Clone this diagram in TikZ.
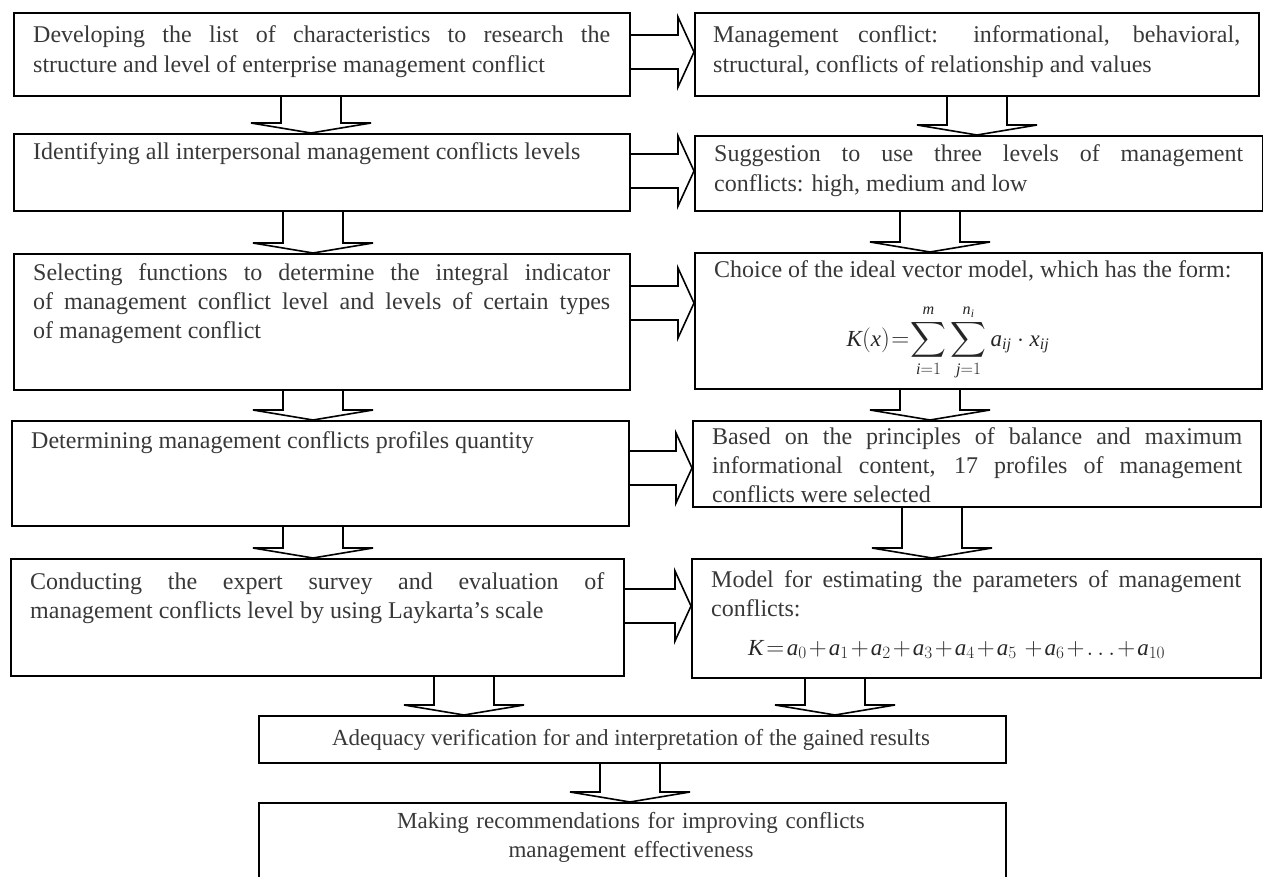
\documentclass[tikz,border=0pt]{standalone}
\usepackage{amsmath}
\usepackage{fontspec}
\setmainfont{Liberation Serif}
\usetikzlibrary{calc}
\newcommand\vi[1]{\textit{#1}}
\tikzset{
  box/.style={draw=black, line width=1.8pt, inner sep=0pt, anchor=north west},
  txt/.style={inner sep=0pt, text=black!78, font=\fontsize{24}{29.2}\selectfont},
  btxt/.style={inner sep=0pt, text=black!78, font=\fontsize{23}{29}\selectfont},
  ftxt/.style={inner sep=0pt, text=black!85, font=\fontsize{23}{29}\selectfont},
  jtxt/.style={txt, align=justify, anchor=base west},
  blockarrow/.style={draw=black, line width=1.6pt, line join=miter},
}
\newcommand\darrow[3]{%
  \path (#3,0) coordinate (dx);
  \path (#1.south -| dx) coordinate (ds) (#2.north -| dx) coordinate (dt);
  \draw[blockarrow] ($(ds)+(-30,0)$) -- ($(dt)+(-30,-10)$) -- ($(dt)+(-60,-10)$) -- (dt)
     -- ($(dt)+(60,-10)$) -- ($(dt)+(30,-10)$) -- ($(ds)+(30,0)$);
}
\newcommand\rarrow[3]{%
  \path (0,#3) coordinate (ry);
  \path (#1.east |- ry) coordinate (rs) (#2.west |- ry) coordinate (rt);
  \draw[blockarrow] ($(rs)+(0,-17)$) -- ($(rt)+(-16,-17)$) -- ($(rt)+(-16,-35)$) -- (rt)
     -- ($(rt)+(-16,35)$) -- ($(rt)+(-16,17)$) -- ($(rs)+(0,17)$);
}
\begin{document}
\begin{tikzpicture}[x=1pt,y=-1pt]
\useasboundingbox (0,0) rectangle (1263,877);

% boxes
\node[box, minimum width=616pt, minimum height=83pt] (L1) at (13,12) {};
\node[box, minimum width=564pt, minimum height=83pt] (R1) at (694,12) {};
\node[box, minimum width=616pt, minimum height=77pt] (L2) at (13,133) {};
\node[box, minimum width=568pt, minimum height=75pt] (R2) at (694,135) {};
\node[box, minimum width=616pt, minimum height=136pt] (L3) at (13,253) {};
\node[box, minimum width=567pt, minimum height=136pt] (R3) at (694,252) {};
\node[box, minimum width=617pt, minimum height=105pt] (L4) at (11,420) {};
\node[box, minimum width=568pt, minimum height=86pt] (R4) at (692,420) {};
\node[box, minimum width=613pt, minimum height=117pt] (L5) at (10,558) {};
\node[box, minimum width=569pt, minimum height=119pt] (R5) at (691,558) {};
\node[box, minimum width=747pt, minimum height=47pt] (B1) at (258,715) {};
\node[box, minimum width=747pt, minimum height=77pt] (B2) at (258,802) {};

% texts
\node[jtxt, text width=577pt] (L1t) at (33,43)
  {Developing the list of characteristics to research the\linebreak structure and level of enterprise management conflict};
\node[jtxt, text width=527pt] (R1t) at (713,43)
  {Management conflict: informational, behavioral,\linebreak structural, conflicts of relationship and values};
\node[jtxt, text width=577pt] (L2t) at (33,160)
  {Identifying all interpersonal management conflicts levels};
\node[jtxt, text width=529pt] (R2t) at (714,162)
  {Suggestion to use three levels of management\linebreak conflicts: high, medium and low};
\node[jtxt, text width=577pt] (L3t) at (33,280)
  {Selecting functions to determine the integral indicator\linebreak of management conflict level and levels of certain types\linebreak of management conflict};
\node[txt, anchor=base west] (R3t) at (714,277)
  {Choice of the ideal vector model, which has the form:};
\node[ftxt, anchor=base] (R3f) at (948,346)
  {$\thickmuskip=1mu\displaystyle \vi{K}(\vi{x})=\sum_{\vi{i}=1}^{\vi{m}}\sum_{\vi{j}=1}^{\vi{n}_{\vi{i}}}\vi{a}_{\vi{ij}}\cdot \vi{x}_{\vi{ij}}$};
\node[jtxt, text width=577pt] (L4t) at (31,448)
  {Determining management conflicts profiles quantity};
\node[jtxt, text width=530pt] (R4t) at (712,444)
  {Based on the principles of balance and maximum\linebreak informational content, 17 profiles of management\linebreak conflicts were selected};
\node[jtxt, text width=574pt] (L5t) at (30,589)
  {Conducting the expert survey and evaluation of\linebreak management conflicts level by using Laykarta’s scale};
\node[jtxt, text width=530pt] (R5t) at (711,587)
  {Model for estimating the parameters of management\linebreak conflicts:};
\node[ftxt, anchor=base west] (R5f) at (748,655)
  {$\medmuskip=1.5mu\thickmuskip=2mu \vi{K}=\vi{a}_0+\vi{a}_1+\vi{a}_2+\vi{a}_3+\vi{a}_4+\vi{a}_5\ +\vi{a}_6+\ldots+\vi{a}_{10}$};
\node[btxt, anchor=base] (B1t) at (631,745)
  {Adequacy verification for and interpretation of the gained results};
\node[btxt, anchor=base, text width=700pt, align=center] (B2t) at (631,828)
  {Making recommendations for improving conflicts\\management effectiveness};

% down arrows
\darrow{L1}{L2}{311}
\darrow{R1}{R2}{977}
\darrow{L2}{L3}{313}
\darrow{R2}{R3}{930}
\darrow{L3}{L4}{313}
\darrow{R3}{R4}{930}
\darrow{L4}{L5}{313}
\darrow{R4}{R5}{932}
\darrow{L5}{B1}{464}
\darrow{R5}{B1}{835}
\darrow{B1}{B2}{630}

% right arrows
\rarrow{L1}{R1}{52}
\rarrow{L2}{R2}{171}
\rarrow{L3}{R3}{303}
\rarrow{L4}{R4}{468}
\rarrow{L5}{R5}{606}
\end{tikzpicture}
\end{document}
